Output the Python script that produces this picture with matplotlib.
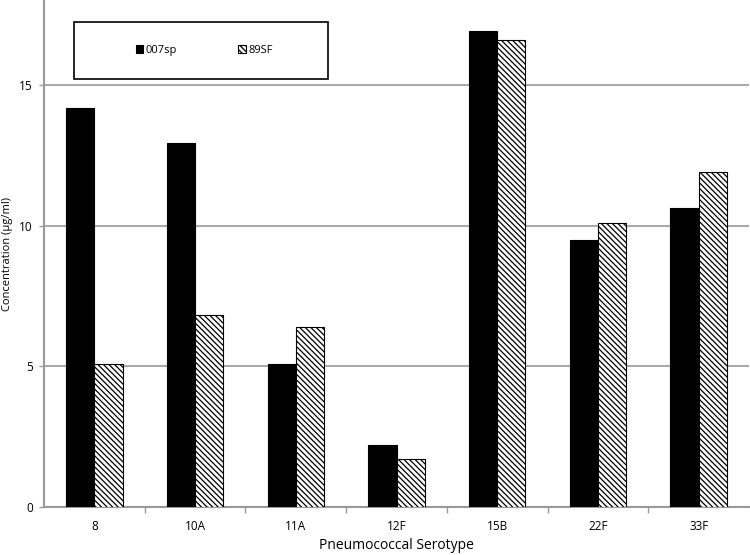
import numpy as np
import matplotlib
matplotlib.use("Agg")
import matplotlib.pyplot as plt
from matplotlib.patches import Rectangle

plt.rcParams['font.family'] = ['Open Sans', 'DejaVu Sans']
plt.rcParams['hatch.linewidth'] = 0.9

# valores
serotipos = ['8', '10A', '11A', '12F', '15B', '22F', '33F']
conc_007sp = [14.2, 12.95, 5.08, 2.22, 16.94, 9.5, 10.65]
conc_89SF = [5.1, 6.82, 6.42, 1.71, 16.6, 10.1, 11.9]

fig = plt.figure(figsize=(7.5, 5.55), dpi=100)
ax = fig.add_axes([44/750, 48/555, 705/750, 506/555])

x = np.arange(len(serotipos))
w = 0.28
ax.bar(x - w/2, conc_007sp, w, color='black', edgecolor='black', linewidth=0.8,
       label='007sp', zorder=3)
ax.bar(x + w/2, conc_89SF, w, color='white', edgecolor='black', linewidth=0.8,
       hatch='\\\\\\\\\\\\', label='89SF', zorder=3)

ax.set_xlim(-0.5, len(serotipos) - 0.5)
ax.set_ylim(0, 18)
ax.set_yticks([0, 5, 10, 15])
ax.set_xticks(x)
ax.set_xticklabels(serotipos, fontsize=8.5)
ax.set_xticks(np.arange(0.5, len(serotipos) - 0.5), minor=True)
ax.tick_params(axis='x', which='major', length=0, pad=9)
ax.tick_params(axis='x', which='minor', length=4, color='#999999', width=1)
ax.tick_params(axis='y', length=3.5, color='#999999', width=1, labelsize=8.5, pad=4.5)

ax.yaxis.grid(True, color='#aaaaaa', linewidth=1.5, zorder=0)
ax.set_axisbelow(True)
for s in ['top', 'right']:
    ax.spines[s].set_visible(False)
ax.spines['left'].set_color('#999999')
ax.spines['bottom'].set_color('#999999')
ax.spines['left'].set_linewidth(1.5)
ax.spines['bottom'].set_linewidth(1.5)

ax.set_xlabel('Pneumococcal Serotype', fontsize=10, labelpad=4)
ax.set_ylabel('Concentration (\u00b5g/ml)', fontsize=8)
ax.yaxis.set_label_coords(-31/705, 0.5)

# caixa da legenda
caixa = Rectangle((30/705, 1 - 78/506), 254/705, 57/506, transform=ax.transAxes,
                  facecolor='white', edgecolor='black', linewidth=1.2, zorder=4)
ax.add_patch(caixa)
leg = ax.legend(loc='center', bbox_to_anchor=(160/705, 1 - 49.5/506),
                ncol=2, fontsize=8, frameon=False,
                handlelength=0.7, handleheight=0.7, handletextpad=0.2,
                borderaxespad=0, columnspacing=5.5)
leg.set_zorder(5)

fig.savefig('out.png', dpi=100)
